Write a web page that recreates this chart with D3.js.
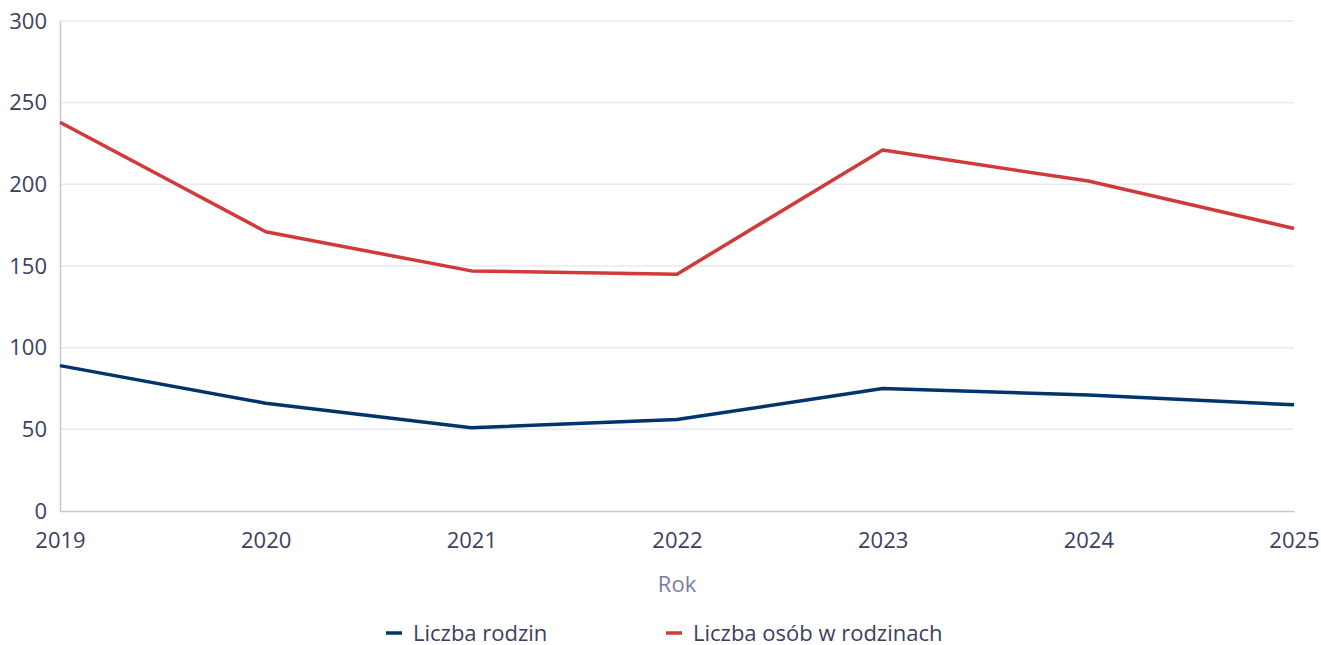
<!DOCTYPE html>
<html>
<head>
<meta charset="utf-8">
<script src="https://cdn.jsdelivr.net/npm/d3@7"></script>
<style>
  body { margin: 0; background: #fff; font-family: "Open Sans", sans-serif; overflow: hidden; }
  svg { display: block; }
</style>
</head>
<body>
<div id="chart"></div>
<script>
// data
let years = [2019, 2020, 2021, 2022, 2023, 2024, 2025];
let rodziny = [89, 66, 51, 56, 75, 71, 65];
let osoby = [238, 171, 147, 145, 221, 202, 173];
let yTicks = [0, 50, 100, 150, 200, 250, 300];
let seriesNames = ["Liczba rodzin", "Liczba osób w rodzinach"];
let seriesColors = ["#00346b", "#d13a3a"];

var W = 1321, H = 645;
var margin = { top: 21, right: 27, bottom: 134, left: 60 },
    width = W - margin.left - margin.right,
    height = H - margin.top - margin.bottom;

var svg = d3.select("#chart")
    .append("svg")
    .attr("width", W)
    .attr("height", H);

var g = svg.append("g")
    .attr("transform", "translate(" + margin.left + "," + margin.top + ")");

var x = d3.scaleLinear()
    .domain([2019, 2025])
    .range([0, width]);

var y = d3.scaleLinear()
    .domain([0, 300])
    .range([height, 0]);

// gridlines
g.selectAll(".grid")
    .data(yTicks.filter(function (d) { return d > 0; }))
    .enter()
    .append("line")
    .attr("x1", 0)
    .attr("x2", width)
    .attr("y1", function (d) { return y(d); })
    .attr("y2", function (d) { return y(d); })
    .attr("stroke", "#e9e9ef")
    .attr("stroke-width", 1.5);

// y axis
var yAxis = g.append("g")
    .call(d3.axisLeft(y).tickValues(yTicks).tickSize(0).tickPadding(13));
yAxis.select(".domain").attr("stroke", "#c4c5d6").attr("stroke-width", 1.5);
yAxis.selectAll("text")
    .style("font-family", "Open Sans")
    .style("font-size", "22px")
    .attr("fill", "#3c4060");

// x axis
var xAxis = g.append("g")
    .attr("transform", "translate(0," + height + ")")
    .call(d3.axisBottom(x).tickValues(years).tickFormat(d3.format("d")).tickSize(0).tickPadding(21));
xAxis.select(".domain").attr("stroke", "#c4c5d6").attr("stroke-width", 1.5);
xAxis.selectAll("text")
    .style("font-family", "Open Sans")
    .style("font-size", "22px")
    .attr("fill", "#3c4060");

// axis title
g.append("text")
    .attr("x", width / 2)
    .attr("y", height + 81)
    .attr("text-anchor", "middle")
    .style("font-family", "Open Sans")
    .style("font-size", "22px")
    .attr("fill", "#7a7ea0")
    .text("Rok");

// lines
var line = d3.line()
    .x(function (d, i) { return x(years[i]); })
    .y(function (d) { return y(d); });

[rodziny, osoby].forEach(function (s, k) {
    g.append("path")
        .datum(s)
        .attr("d", line)
        .attr("fill", "none")
        .attr("stroke", seriesColors[k])
        .attr("stroke-width", 3.5)
        .attr("stroke-linejoin", "round");
});

// legend
var legendX = [386, 666];
seriesNames.forEach(function (name, k) {
    var lg = svg.append("g").attr("transform", "translate(" + legendX[k] + ",633)");
    lg.append("line")
        .attr("x1", 0).attr("x2", 16)
        .attr("stroke", seriesColors[k])
        .attr("stroke-width", 3.5);
    lg.append("text")
        .attr("x", 27)
        .attr("dy", "0.35em")
        .style("font-family", "Open Sans")
        .style("font-size", "22px")
        .attr("fill", "#3c4060")
        .text(name);
});
</script>
</body>
</html>
